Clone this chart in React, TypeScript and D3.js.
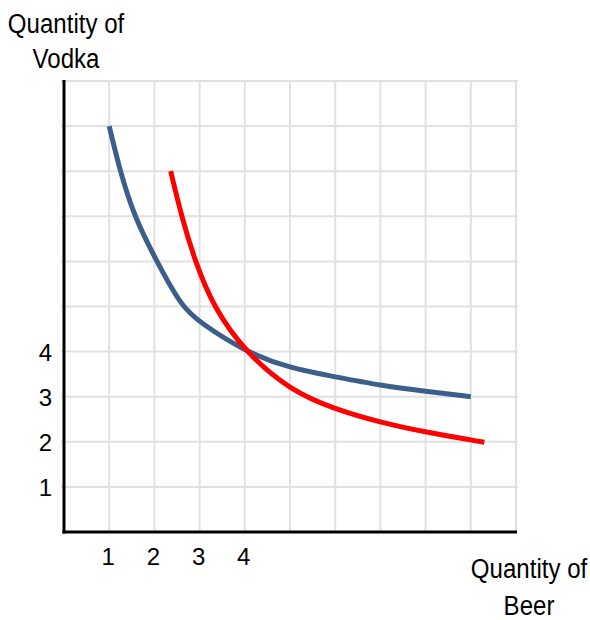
import React from "react";
import * as d3 from "d3";

const gridTicks = [1, 2, 3, 4, 5, 6, 7, 8, 9, 10];
const xTickLabels = [1, 2, 3, 4];
const yTickLabels = [1, 2, 3, 4];

const blueX = [1, 1.24, 1.55, 2.05, 2.6, 3, 4, 5, 6, 7, 8, 9];
const blueY = [9, 8, 7, 6, 5, 4.65, 4, 3.63, 3.44, 3.25, 3.12, 3];

const redX = [2.36, 2.6, 2.9, 3.3, 4, 5, 6, 7, 8, 9.3];
const redY = [8, 7, 6, 5, 4, 3.14, 2.72, 2.43, 2.21, 1.99];

const yTitle = ["Quantity of", "Vodka"];
const xTitle = ["Quantity of", "Beer"];

export default function App() {
  const x = d3.scaleLinear().domain([0, 10]).range([64, 516]);
  const y = d3.scaleLinear().domain([0, 10]).range([532, 81]);
  const line = d3
    .line<[number, number]>()
    .x((d) => x(d[0]))
    .y((d) => y(d[1]))
    .curve(d3.curveBasis);
  const blue = blueX.map((v, i) => [v, blueY[i]] as [number, number]);
  const red = redX.map((v, i) => [v, redY[i]] as [number, number]);
  const font = "'Liberation Sans', Arial, sans-serif";
  return (
    <svg
      width={590}
      height={620}
      style={{ position: "absolute", left: 0, top: 0, background: "#fff" }}
      fontFamily={font}
    >
      <g stroke="#e1e1e1" strokeWidth={2}>
        {gridTicks.map((t) => (
          <line key={"v" + t} x1={x(t)} x2={x(t)} y1={y(10) - 1} y2={y(0)} />
        ))}
        {gridTicks.map((t) => (
          <line key={"h" + t} x1={x(0) - 3} x2={x(10) + 2} y1={y(t)} y2={y(t)} />
        ))}
      </g>
      <line x1={x(0)} x2={x(0)} y1={y(10) - 1} y2={y(0) + 1.5} stroke="#000" strokeWidth={3} />
      <line x1={x(0) - 1.5} x2={x(10) + 1} y1={y(0)} y2={y(0)} stroke="#000" strokeWidth={3} />
      <path d={line(blue) || ""} fill="none" stroke="#3b5e8b" strokeWidth={5} />
      <path d={line(red) || ""} fill="none" stroke="#ff0000" strokeWidth={5} />
      <g fontSize={24} fill="#000">
        {xTickLabels.map((t) => (
          <text key={"xl" + t} x={x(t) - 1} y={565} textAnchor="middle">
            {t}
          </text>
        ))}
        {yTickLabels.map((t) => (
          <text key={"yl" + t} x={52} y={y(t) + 9} textAnchor="end">
            {t}
          </text>
        ))}
      </g>
      <g fontSize={28} fill="#000">
        {yTitle.map((s, i) => (
          <text
            key={"yt" + i}
            transform={`translate(66,${33 + i * 35}) scale(0.86,1)`}
            textAnchor="middle"
          >
            {s}
          </text>
        ))}
        {xTitle.map((s, i) => (
          <text
            key={"xt" + i}
            transform={`translate(529,${578 + i * 37}) scale(0.86,1)`}
            textAnchor="middle"
          >
            {s}
          </text>
        ))}
      </g>
    </svg>
  );
}
